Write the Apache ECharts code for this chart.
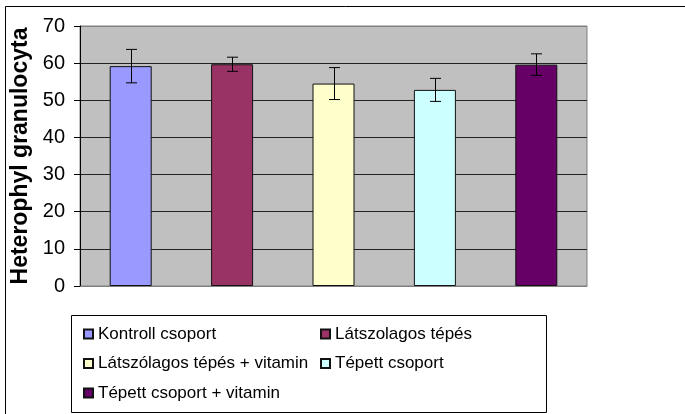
<html>
<head>
    <meta charset="utf-8">
    <script src="https://cdn.jsdelivr.net/npm/echarts@6/dist/echarts.min.js"></script>
</head>
<body style="margin:0">
<div id="main" style="width:685px;height:414px"></div>
<script>
    var groups = ['Kontroll csoport', 'Látszolagos tépés', 'Látszólagos tépés + vitamin', 'Tépett csoport', 'Tépett csoport + vitamin'];
    var means = [59.2, 59.7, 54.5, 52.8, 59.6];
    var errors = [4.5, 1.9, 4.3, 3.1, 2.9];
    var colors = ['#9999FF', '#993366', '#FFFFCC', '#CCFFFF', '#660066'];
    var yTicks = [0, 10, 20, 30, 40, 50, 60, 70];

    var chart = echarts.init(document.getElementById('main'));
    var font = 'Liberation Sans, Arial, sans-serif';

    var series = groups.map(function (name, i) {
        var data = groups.map(function (g, j) {
            return j === i ? means[i] : '-';
        });
        return {
            name: name,
            type: 'bar',
            data: data,
            barWidth: 42,
            barGap: '-100%',
            itemStyle: {
                color: colors[i],
                borderColor: '#111',
                borderWidth: 1
            },
            emphasis: {disabled: true}
        };
    });

    // error bars (mean +/- error)
    series.push({
        type: 'custom',
        z: 10,
        data: means.map(function (m, i) {
            return [i, m - errors[i], m + errors[i]];
        }),
        renderItem: function (params, api) {
            var lo = api.coord([api.value(0), api.value(1)]);
            var hi = api.coord([api.value(0), api.value(2)]);
            var x = Math.round(lo[0]) + 0.5;
            var style = {stroke: '#000', lineWidth: 1};
            return {
                type: 'group',
                children: [
                    {type: 'line', shape: {x1: x, y1: lo[1], x2: x, y2: hi[1]}, style: style},
                    {type: 'line', shape: {x1: x - 5.5, y1: lo[1], x2: x + 5.5, y2: lo[1]}, style: style},
                    {type: 'line', shape: {x1: x - 5.5, y1: hi[1], x2: x + 5.5, y2: hi[1]}, style: style}
                ]
            };
        }
    });

    var gridLineColors = yTicks.map(function (t, i) {
        return (i === 0 || i === yTicks.length - 1) ? '#808080' : '#222';
    });

    var legendText = {fontSize: 17, color: '#000', fontFamily: font, lineHeight: 18};

    var option = {
        animation: false,
        backgroundColor: '#fff',
        textStyle: {fontFamily: font},
        graphic: [
            {
                type: 'rect',
                shape: {x: 5.5, y: 6.5, width: 720, height: 440},
                style: {fill: 'none', stroke: '#000', lineWidth: 1},
                z: -1
            },
            {
                type: 'rect',
                shape: {x: 71.5, y: 315.5, width: 475, height: 97},
                style: {fill: '#fff', stroke: '#000', lineWidth: 1},
                z: 0
            }
        ],
        grid: {
            left: 80,
            top: 26,
            width: 507,
            height: 260,
            show: true,
            backgroundColor: '#C0C0C0',
            borderColor: '#808080',
            borderWidth: 1
        },
        legend: [
            {
                left: 78,
                top: 320,
                orient: 'vertical',
                itemWidth: 9,
                itemHeight: 9,
                itemGap: 11.5,
                icon: 'rect',
                data: [groups[0], groups[2], groups[4]],
                textStyle: legendText,
                z: 5
            },
            {
                left: 315,
                top: 320,
                orient: 'vertical',
                itemWidth: 9,
                itemHeight: 9,
                itemGap: 11.5,
                icon: 'rect',
                data: [groups[1], groups[3]],
                textStyle: legendText,
                z: 5
            }
        ],
        xAxis: {
            type: 'category',
            data: groups,
            axisLine: {lineStyle: {color: '#808080'}},
            axisTick: {show: false},
            axisLabel: {show: false}
        },
        yAxis: {
            type: 'value',
            min: 0,
            max: 70,
            interval: 10,
            name: 'Heterophyl granulocyta',
            nameLocation: 'middle',
            nameGap: 46,
            nameTextStyle: {fontSize: 23, fontWeight: 'bold', color: '#000', fontFamily: font},
            axisLine: {show: true, lineStyle: {color: '#000'}},
            axisTick: {show: true, length: 6, lineStyle: {color: '#000'}},
            axisLabel: {fontSize: 20, color: '#000', margin: 15, fontFamily: font},
            splitLine: {show: true, lineStyle: {color: gridLineColors, width: 1}}
        },
        series: series
    };

    chart.setOption(option);
</script>
</body>
</html>
